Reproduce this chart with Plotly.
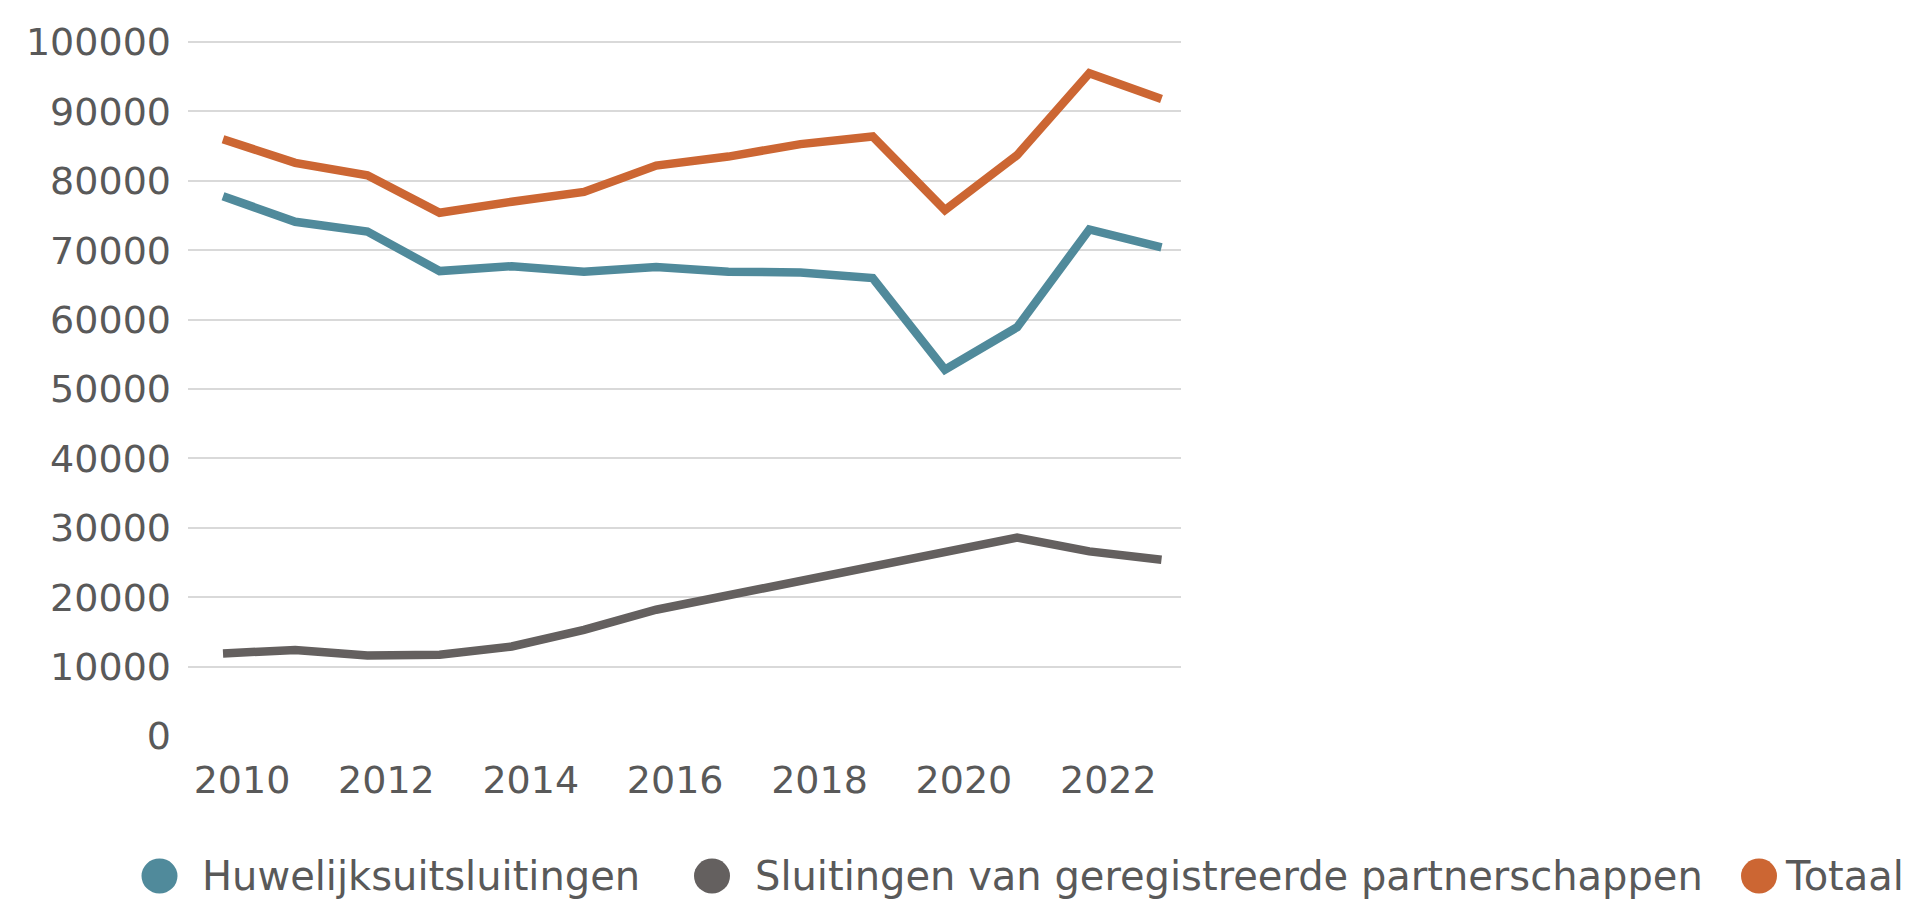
import plotly.graph_objects as go

years = list(range(2010, 2024))
huwelijk = [77800, 74100, 72700, 67000, 67700, 66900, 67600, 66900, 66800, 66000, 52800, 58900, 73000, 70400]
partnerschap = [11900, 12400, 11600, 11700, 12900, 15300, 18200, 20300, 22300, 24300, 26500, 28600, 26600, 25400]
totaal = [86000, 82600, 80800, 75400, 77000, 78400, 82200, 83500, 85300, 86400, 75800, 83700, 95500, 91800]

names = ["Huwelijksuitsluitingen", "Sluitingen van geregistreerde partnerschappen", "Totaal"]
colors = ["#508A9B", "#64605F", "#CC6633"]
series = [huwelijk, partnerschap, totaal]

tick_years = [2010, 2012, 2014, 2016, 2018, 2020, 2022]
y_ticks = list(range(0, 100001, 10000))

TEXT = "#595959"
FONT = "DejaVu Sans"

fig = go.Figure()
for name, col, vals in zip(names, colors, series):
    fig.add_trace(go.Scatter(
        x=years, y=vals, name=name, mode="lines",
        line=dict(color=col, width=8.5),
        showlegend=False, hoverinfo="skip",
    ))

# plot area in pixels
L, R, T, B = 188, 1181, 40, 736
W, H = R - L, B - T

def px_x(p):
    return (p - L) / W

def px_y(p):
    return (B - p) / H

# custom legend (large circles)
legend_items = [
    (names[0], colors[0], 159.5, 202),
    (names[1], colors[1], 712, 755),
    (names[2], colors[2], 1759, 1785),
]
leg_y = 876
shapes = []
annotations = []
for name, col, cx, tx in legend_items:
    shapes.append(dict(
        type="circle", xref="paper", yref="paper",
        xsizemode="pixel", ysizemode="pixel",
        xanchor=px_x(cx), yanchor=px_y(leg_y),
        x0=-18, x1=18, y0=-17.5, y1=17.5,
        fillcolor=col, line=dict(width=0),
    ))
    annotations.append(dict(
        text=name, xref="paper", yref="paper",
        x=px_x(tx), y=px_y(leg_y), xanchor="left", yanchor="middle",
        showarrow=False, borderpad=0, borderwidth=0,
        font=dict(family=FONT, size=40, color=TEXT),
    ))

fig.update_layout(
    width=1916, height=899, autosize=False,
    margin=dict(l=L, r=1916 - R, t=T, b=899 - B, pad=0),
    paper_bgcolor="white", plot_bgcolor="white",
    font=dict(family=FONT, color=TEXT),
    shapes=shapes, annotations=annotations,
    hovermode=False,
    xaxis=dict(
        range=[2010 - (223 - L) / 72.19, 2023 + (R - 1161.5) / 72.19],
        tickvals=tick_years, ticktext=[str(y) for y in tick_years],
        showgrid=False, zeroline=False, showline=False,
        ticks="", ticklabelshift=19, ticklabelstandoff=18,
        tickfont=dict(family=FONT, size=38, color=TEXT),
    ),
    yaxis=dict(
        range=[0, 100300],
        tickvals=y_ticks, ticktext=[str(v) for v in y_ticks],
        showgrid=True, gridcolor="#D9D9D9", gridwidth=2,
        zeroline=False, showline=False, ticks="",
        ticklabelstandoff=16,
        tickfont=dict(family=FONT, size=38, color=TEXT),
    ),
)

fig.write_html(
    "out.html",
    config={"displayModeBar": False},
    post_script="document.body.style.margin='0';document.body.style.overflow='hidden';",
)
